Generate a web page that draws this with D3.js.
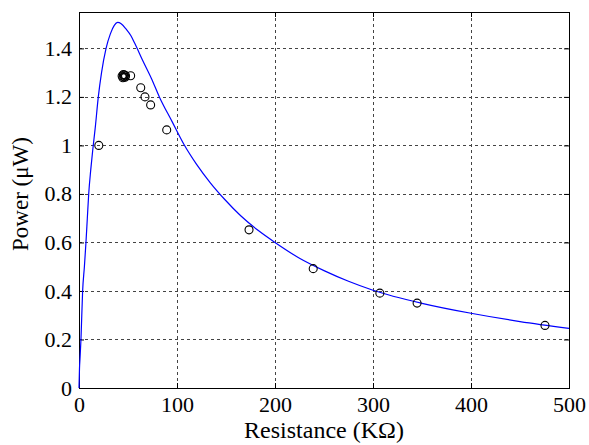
<!DOCTYPE html>
<html>
<head>
<meta charset="utf-8">
<script src="https://cdn.jsdelivr.net/npm/d3@7"></script>
<style>
  html, body { margin: 0; padding: 0; background: #fff; }
  svg { display: block; }
</style>
</head>
<body>
<svg id="chart" width="589" height="445"></svg>
<script>
// ---- data ----
const xTicks = [0, 100, 200, 300, 400, 500];
const yTicks = [0, 0.2, 0.4, 0.6, 0.8, 1, 1.2, 1.4];
const yTickLabels = ["0", "0.2", "0.4", "0.6", "0.8", "1", "1.2", "1.4"];

// fitted curve (blue line)
const curveR = [0, 0.5, 1, 2, 3.7, 5.5, 7.1, 8.5, 9.9, 12, 14, 16.5, 19.7, 23, 27.6, 32, 36, 39.4, 43, 48, 53, 57, 65, 74, 82, 95, 107, 120, 134, 149, 165, 183, 200, 225, 250, 275, 300, 350, 400, 450, 500];
const curveP = [0, 0.08, 0.12, 0.2, 0.4, 0.5, 0.6, 0.7, 0.8, 0.9, 0.98, 1.07, 1.2, 1.3, 1.4, 1.46, 1.495, 1.507, 1.502, 1.48, 1.452, 1.42, 1.35, 1.275, 1.2, 1.098, 1.005, 0.922, 0.846, 0.776, 0.71, 0.649, 0.6, 0.535, 0.484, 0.44, 0.403, 0.349, 0.308, 0.274, 0.246];

// measured points (open circles)
const dataR = [20.2, 44.0, 44.8, 45.3, 45.8, 46.4, 47.0, 47.5, 52.7, 63, 67.3, 73.1, 89.5, 173.5, 239, 307, 345, 475.5];
const dataP = [1.0, 1.286, 1.279, 1.292, 1.283, 1.29, 1.281, 1.287, 1.287, 1.238, 1.2, 1.167, 1.064, 0.652, 0.492, 0.391, 0.35, 0.258];

const xLabel = "Resistance (KΩ)";
const yLabel = "Power (μW)";

// ---- layout ----
const mLeft = 79, mTop = 12, plotW = 490, plotH = 376;
const font = "'Liberation Serif', 'Times New Roman', Times, serif";

const svg = d3.select("#chart");
const g = svg.append("g").attr("transform", `translate(${mLeft},${mTop})`);

const x = d3.scaleLinear().domain([0, 500]).range([0, plotW]);
const y = d3.scaleLinear().domain([0, 1.55]).range([plotH, 0]);

// grid
const grid = g.append("g").attr("stroke", "#444").attr("stroke-width", 1).attr("stroke-dasharray", "3,3");
grid.selectAll("line.gx").data(xTicks.filter(d => d > 0 && d < 500)).enter().append("line")
  .attr("x1", d => Math.round(x(d)) + 0.5).attr("x2", d => Math.round(x(d)) + 0.5)
  .attr("y1", 0).attr("y2", plotH);
grid.selectAll("line.gy").data(yTicks.filter(d => d > 0)).enter().append("line")
  .attr("y1", d => Math.round(y(d)) + 0.5).attr("y2", d => Math.round(y(d)) + 0.5)
  .attr("x1", 0).attr("x2", plotW);

// axes
const fmtY = d => yTickLabels[yTicks.indexOf(d)];
const xAxis = d3.axisBottom(x).tickValues(xTicks).tickSizeInner(-5).tickSizeOuter(0).tickPadding(8).tickFormat(d3.format("d"));
const yAxis = d3.axisLeft(y).tickValues(yTicks).tickSizeInner(-5).tickSizeOuter(0).tickPadding(7).tickFormat(fmtY);
const xTop = d3.axisTop(x).tickValues(xTicks).tickSizeInner(-5).tickSizeOuter(0).tickFormat("");
const yRight = d3.axisRight(y).tickValues(yTicks).tickSizeInner(-5).tickSizeOuter(0).tickFormat("");

function style(sel) {
  sel.attr("font-family", null);
  sel.select(".domain").remove();
  sel.selectAll(".tick line").attr("stroke", "#000");
  sel.selectAll("text").attr("fill", "#000").style("font-family", font).style("font-size", "22px");
}
g.append("g").attr("transform", `translate(0,${plotH})`).call(xAxis).call(style);
g.append("g").call(yAxis).call(style);
g.append("g").call(xTop).call(style);
g.append("g").attr("transform", `translate(${plotW},0)`).call(yRight).call(style);

// frame
g.append("rect").attr("x", 0.5).attr("y", 0.5).attr("width", plotW).attr("height", plotH)
  .attr("fill", "none").attr("stroke", "#000").attr("stroke-width", 1);

// curve
const line = d3.line().x((d, i) => x(curveR[i])).y((d, i) => y(curveP[i])).curve(d3.curveMonotoneX);
g.append("path").datum(curveR).attr("d", line)
  .attr("fill", "none").attr("stroke", "#0000ff").attr("stroke-width", 1.2);

// points
g.selectAll("circle.pt").data(dataR).enter().append("circle")
  .attr("class", "pt")
  .attr("cx", (d, i) => x(dataR[i])).attr("cy", (d, i) => y(dataP[i])).attr("r", 4)
  .attr("fill", "none").attr("stroke", "#000").attr("stroke-width", 1.1);

// labels
svg.append("text").attr("x", mLeft + plotW / 2).attr("y", 438).attr("text-anchor", "middle")
  .style("font-family", font).style("font-size", "24px").attr("fill", "#000").text(xLabel);
svg.append("text").attr("transform", `translate(28,194) rotate(-90)`).attr("text-anchor", "middle")
  .style("font-family", font).style("font-size", "23px").attr("fill", "#000").text(yLabel);
</script>
</body>
</html>
